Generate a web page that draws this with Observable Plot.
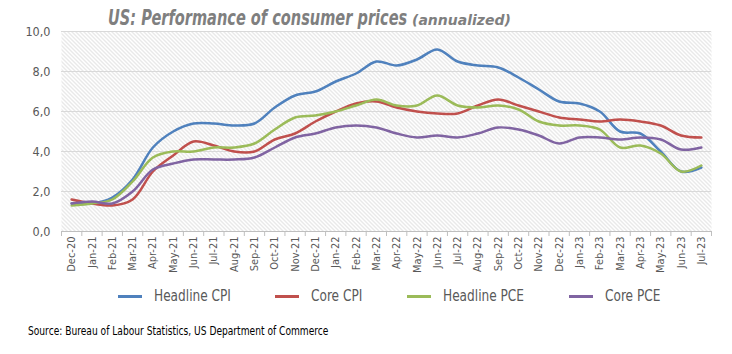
<!DOCTYPE html>
<html><head><meta charset="utf-8">
<script src="https://cdn.jsdelivr.net/npm/d3@7"></script>
<script src="https://cdn.jsdelivr.net/npm/@observablehq/plot@0.6"></script>
<style>
body{margin:0;background:#fff;}
#wrap{position:relative;width:732px;height:354px;overflow:hidden;background:#fff;font-family:"Liberation Sans Narrow","DejaVu Sans Condensed",sans-serif;}
#chart{position:absolute;left:0;top:0;}
#title{position:absolute;left:108px;top:6px;font-size:21px;font-weight:bold;font-style:italic;color:#7f7f7f;white-space:nowrap;line-height:24px;transform:scaleX(0.77);transform-origin:0 0;}
#sub{position:absolute;left:412px;top:12px;font-family:"DejaVu Sans",sans-serif;font-size:14px;font-weight:bold;font-style:italic;color:#7f7f7f;white-space:nowrap;line-height:17px;}
.item{position:absolute;top:287px;display:flex;align-items:center;font-size:15px;color:#595959;white-space:nowrap;}
.sw{width:24px;height:3px;margin-right:12px;}
.item span{display:inline-block;transform:scaleX(0.9);transform-origin:0 50%;}
#source{position:absolute;left:28px;top:324px;font-size:11.5px;color:#000;white-space:nowrap;transform:scaleX(0.88);transform-origin:0 0;}
</style></head><body>
<div id="wrap">
  <div id="chart"></div>
  <div id="title">US: Performance of consumer prices</div>
  <div id="sub">(annualized)</div>
  <div id="source">Source: Bureau of Labour Statistics, US Department of Commerce</div>
</div>
<script>
const months = ["Dec-20","Jan-21","Feb-21","Mar-21","Apr-21","May-21","Jun-21","Jul-21","Aug-21","Sep-21","Oct-21","Nov-21","Dec-21","Jan-22","Feb-22","Mar-22","Apr-22","May-22","Jun-22","Jul-22","Aug-22","Sep-22","Oct-22","Nov-22","Dec-22","Jan-23","Feb-23","Mar-23","Apr-23","May-23","Jun-23","Jul-23"];
const headlineCPI = [1.4,1.4,1.7,2.6,4.2,5.0,5.4,5.4,5.3,5.4,6.2,6.8,7.0,7.5,7.9,8.5,8.3,8.6,9.1,8.5,8.3,8.2,7.7,7.1,6.5,6.4,6.0,5.0,4.9,4.0,3.0,3.2];
const coreCPI = [1.6,1.4,1.3,1.6,3.0,3.8,4.5,4.3,4.0,4.0,4.6,4.9,5.5,6.0,6.4,6.5,6.2,6.0,5.9,5.9,6.3,6.6,6.3,6.0,5.7,5.6,5.5,5.6,5.5,5.3,4.8,4.7];
const headlinePCE = [1.3,1.4,1.6,2.5,3.7,4.0,4.0,4.2,4.2,4.4,5.1,5.7,5.8,6.0,6.3,6.6,6.3,6.3,6.8,6.3,6.2,6.3,6.1,5.5,5.3,5.3,5.1,4.2,4.3,3.9,3.0,3.3];
const corePCE = [1.4,1.5,1.4,2.0,3.1,3.4,3.6,3.6,3.6,3.7,4.2,4.7,4.9,5.2,5.3,5.2,4.9,4.7,4.8,4.7,4.9,5.2,5.1,4.8,4.4,4.7,4.7,4.6,4.7,4.6,4.1,4.2];
const seriesNames = ["Headline CPI","Core CPI","Headline PCE","Core PCE"];
const seriesColors = ["#4f81bd","#c0504d","#9bbb59","#8064a2"];
const yTicks = [0,2,4,6,8,10];
const legendLefts = [118, 275, 407, 569];

const seriesValues = [headlineCPI, coreCPI, headlinePCE, corePCE];
const table = seriesNames.flatMap((name, s) => seriesValues[s].map((v, i) => ({series: name, i, month: months[i], value: v})));
const idx = months.map((_, i) => i);
const bounds = d3.range(months.length + 1).map(i => i - 0.5);

const plot = Plot.plot({
  width: 732, height: 280,
  marginTop: 31, marginBottom: 49, marginLeft: 61, marginRight: 21,
  style: {fontFamily: "'Liberation Sans Narrow','DejaVu Sans Condensed',sans-serif", fontSize: "11px", color: "#595959", background: "transparent"},
  x: {type: "linear", domain: [-0.5, months.length - 0.5], ticks: idx, tickFormat: i => months[i], tickRotate: -90, tickSize: 0, tickPadding: 5, label: null},
  y: {domain: [0, 10], ticks: yTicks, tickFormat: d => d.toFixed(1).replace(".", ","), tickSize: 0, tickPadding: 11, label: null},
  color: {domain: seriesNames, range: seriesColors},
  marks: [
    Plot.frame({fill: "url(#hatch)", stroke: "none"}),
    Plot.ruleY(yTicks.filter(v => v > 0), {stroke: "#d9d9d9", strokeWidth: 1}),
    Plot.ruleY([0], {stroke: "#bfbfbf", strokeWidth: 1}),
    Plot.ruleX(bounds, {y1: 0, y2: 0, insetBottom: -5, stroke: "#bfbfbf"}),
    Plot.line(table, {x: "i", y: "value", z: "series", stroke: "series", curve: "catmull-rom", strokeWidth: 2.5})
  ]
});

const svg = d3.select(plot);
const pat = svg.insert("defs", ":first-child").append("pattern")
  .attr("id", "hatch").attr("patternUnits", "userSpaceOnUse").attr("width", 4).attr("height", 4);
pat.append("rect").attr("width", 4).attr("height", 4).attr("fill", "#ffffff");
pat.append("path").attr("d", "M-1,-1L5,5M-1,3L1,5M3,-1L5,1").attr("stroke", "#c6c6c6").attr("stroke-width", 0.8);
svg.selectAll('g[aria-label="y-axis tick label"]').attr("font-size", "12.5px");
document.getElementById("chart").appendChild(plot);

const wrap = d3.select("#wrap");
seriesNames.forEach((n, k) => {
  const it = wrap.append("div").attr("class", "item").style("left", legendLefts[k] + "px");
  it.append("div").attr("class", "sw").style("background", seriesColors[k]);
  it.append("span").text(n);
});
</script>
</body></html>
